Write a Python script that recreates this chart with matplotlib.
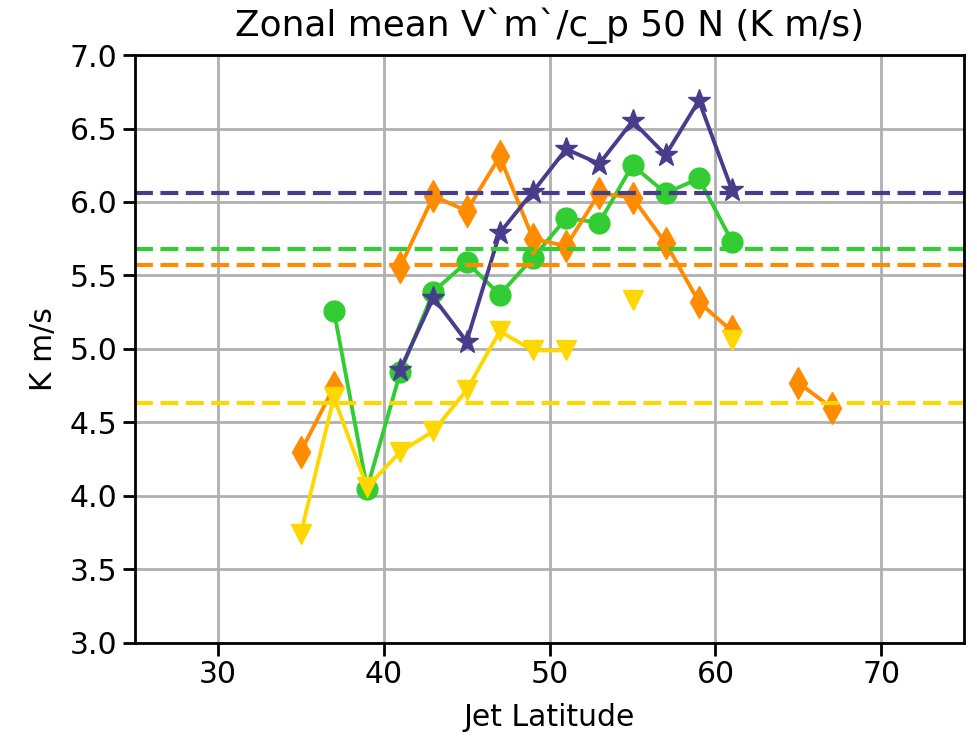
import numpy as np
import matplotlib.pyplot as plt

nan = np.nan

# jet latitude bins (deg N)
lat = [35, 37, 39, 41, 43, 45, 47, 49, 51, 53, 55, 57, 59, 61, 63, 65, 67]

# V'm'/c_p at 50N for each run, binned by jet latitude
green = [nan, 5.26, 4.05, 4.84, 5.39, 5.59, 5.37, 5.62, 5.89, 5.86, 6.25, 6.06, 6.16, 5.73, nan, nan, nan]
orange = [4.30, 4.74, nan, 5.56, 6.04, 5.94, 6.31, 5.75, 5.70, 6.06, 6.03, 5.72, 5.32, 5.12, nan, 4.77, 4.60]
gold = [3.74, 4.67, 4.06, 4.30, 4.44, 4.72, 5.12, 4.99, 4.99, nan, 5.33, nan, nan, 5.06, nan, nan, nan]
purple = [nan, nan, nan, 4.86, 5.35, 5.05, 5.79, 6.07, 6.36, 6.26, 6.55, 6.32, 6.69, 6.08, nan, nan, nan]

# overall means
mean_green = 5.68
mean_orange = 5.57
mean_gold = 4.63
mean_purple = 6.06

plt.rcParams['font.size'] = 21.5

fig = plt.figure(figsize=(9.77, 7.44), dpi=100)
ax = fig.add_axes([0.138, 0.136, 0.849, 0.790])

lw = 2.8
ax.plot(lat, green, color='limegreen', marker='o', ms=15, lw=lw)
ax.plot(lat, orange, color='darkorange', marker='d', ms=16, lw=lw)
ax.plot(lat, gold, color='gold', marker='v', ms=15, lw=lw)
ax.plot(lat, purple, color='darkslateblue', marker='*', ms=17, lw=lw)

dash = (0, (4.3, 1.8))
ax.axhline(mean_green, color='limegreen', ls=dash, lw=3)
ax.axhline(mean_orange, color='darkorange', ls=dash, lw=3)
ax.axhline(mean_gold, color='gold', ls=dash, lw=3)
ax.axhline(mean_purple, color='darkslateblue', ls=dash, lw=3)

ax.set_xlim(25, 75)
ax.set_ylim(3.0, 7.0)
ax.set_xticks([30, 40, 50, 60, 70])
ax.set_yticks(np.arange(3.0, 7.01, 0.5))
ax.grid(True, color='#b0b0b0', lw=2)
ax.set_axisbelow(True)
for s in ax.spines.values():
    s.set_linewidth(2)
ax.tick_params(width=2, length=9)

ax.set_title('Zonal mean V`m`/c_p 50 N (K m/s)', pad=14)
ax.set_xlabel('Jet Latitude', labelpad=10)
ax.set_ylabel('K m/s', labelpad=8)

fig.savefig('out.png', dpi=100)
